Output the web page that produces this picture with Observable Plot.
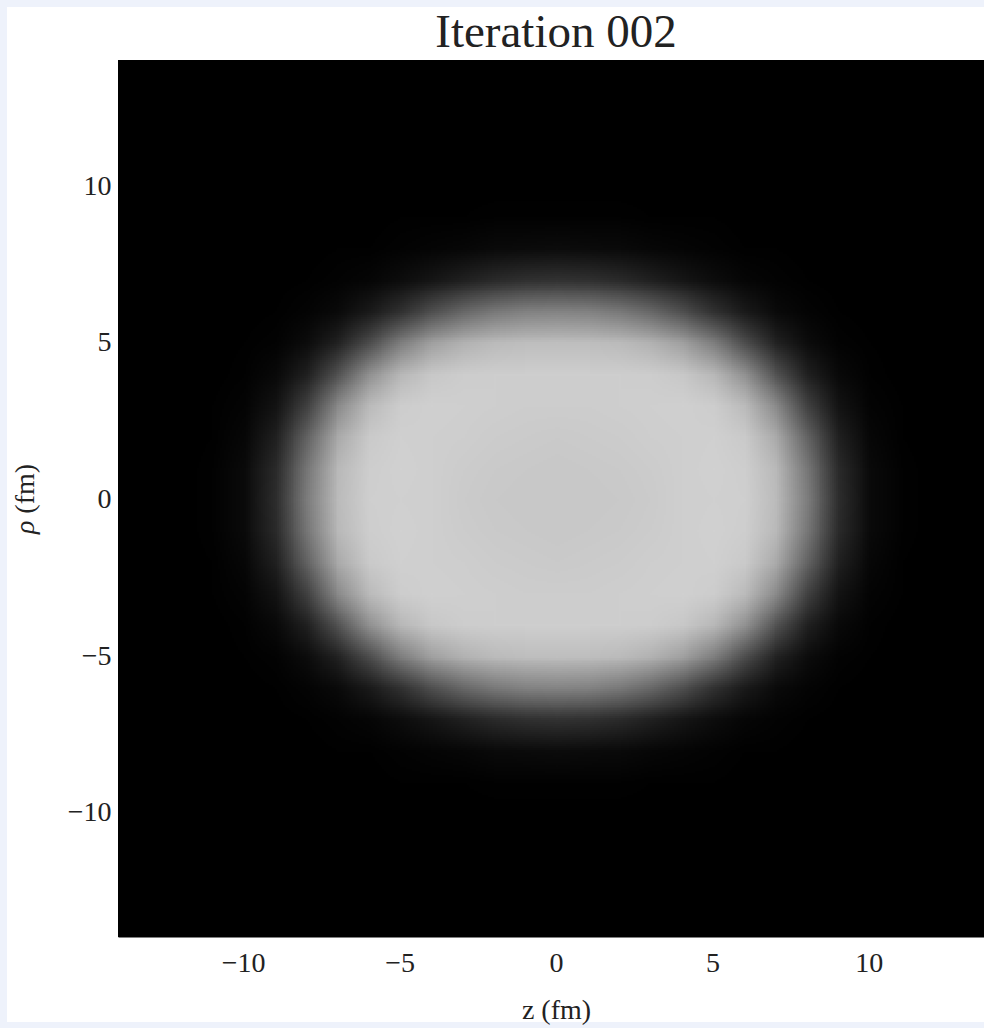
<!DOCTYPE html>
<html>
<head>
<meta charset="utf-8">
<script src="https://cdn.jsdelivr.net/npm/d3@7"></script>
<script src="https://cdn.jsdelivr.net/npm/@observablehq/plot@0.6"></script>
<style>
  html, body { margin: 0; padding: 0; width: 984px; height: 1028px; overflow: hidden; background: #eef2fb; }
  #panel { position: absolute; left: 7px; top: 7px; width: 977px; height: 1015px; background: #fff; }
  #title { position: absolute; left: 111px; top: 1px; width: 876px; text-align: center;
           font-family: "Liberation Serif", serif; font-size: 47px; line-height: 47px; color: #222; }
  #chart { position: absolute; left: 0; top: 45px; }
  #chart svg { max-width: none !important; }
</style>
</head>
<body>
<div id="panel">
  <div id="title">Iteration 002</div>
  <div id="chart"></div>
</div>
<script>
// Axis ticks (fm)
const zTicks = [-10, -5, 0, 5, 10];
const rhoTicks = [-10, -5, 0, 5, 10];

// Grid nodes along each axis, 1 fm apart, from the centre outwards
const zNodes = [0, 1, 2, 3, 4, 5, 6, 7, 8, 9, 10, 11, 12, 13, 14];
const rhoNodes = [0, 1, 2, 3, 4, 5, 6, 7, 8, 9, 10, 11, 12, 13, 14];

// Relative density in the first quadrant: one row per rho node, one column per z node.
// The nucleus is reflection-symmetric in z and rho, so the other quadrants mirror it.
const rho0  = [0.94, 0.94, 0.945, 0.955, 0.97, 0.978, 0.971, 0.88, 0.58, 0.21, 0.048, 0.01, 0.002, 0, 0];
const rho1  = [0.94, 0.942, 0.948, 0.957, 0.971, 0.979, 0.969, 0.87, 0.555, 0.195, 0.045, 0.009, 0.002, 0, 0];
const rho2  = [0.95, 0.952, 0.957, 0.966, 0.974, 0.977, 0.95, 0.80, 0.46, 0.148, 0.033, 0.0067, 0.001, 0, 0];
const rho3  = [0.962, 0.963, 0.968, 0.973, 0.975, 0.963, 0.88, 0.65, 0.30, 0.089, 0.021, 0.0043, 0.001, 0, 0];
const rho4  = [0.965, 0.966, 0.965, 0.962, 0.937, 0.863, 0.685, 0.39, 0.15, 0.041, 0.01, 0.002, 0, 0, 0];
const rho5  = [0.897, 0.894, 0.88, 0.836, 0.75, 0.59, 0.36, 0.16, 0.055, 0.016, 0.004, 0.001, 0, 0, 0];
const rho6  = [0.62, 0.61, 0.57, 0.49, 0.37, 0.23, 0.12, 0.048, 0.017, 0.0055, 0.0015, 0, 0, 0, 0];
const rho7  = [0.24, 0.23, 0.20, 0.155, 0.105, 0.06, 0.03, 0.013, 0.005, 0.002, 0, 0, 0, 0, 0];
const rho8  = [0.055, 0.052, 0.045, 0.034, 0.023, 0.013, 0.007, 0.003, 0.001, 0, 0, 0, 0, 0, 0];
const rho9  = [0.011, 0.011, 0.009, 0.007, 0.0045, 0.003, 0.0015, 0.001, 0, 0, 0, 0, 0, 0, 0];
const rho10 = [0.002, 0.002, 0.002, 0.0015, 0.001, 0.001, 0, 0, 0, 0, 0, 0, 0, 0, 0];
const rho11 = [0, 0, 0, 0, 0, 0, 0, 0, 0, 0, 0, 0, 0, 0, 0];
const rho12 = [0, 0, 0, 0, 0, 0, 0, 0, 0, 0, 0, 0, 0, 0, 0];
const rho13 = [0, 0, 0, 0, 0, 0, 0, 0, 0, 0, 0, 0, 0, 0, 0];
const rho14 = [0, 0, 0, 0, 0, 0, 0, 0, 0, 0, 0, 0, 0, 0, 0];
const quadrant = [rho0, rho1, rho2, rho3, rho4, rho5, rho6, rho7, rho8, rho9, rho10, rho11, rho12, rho13, rho14];

// Full row-major grid, top row at rho = +14, left column at z = -14
const n = zNodes.length;
const side = 2 * n - 1;
const grid = [];
for (let r = 0; r < side; ++r) {
  const ri = Math.abs(n - 1 - r);
  for (let c = 0; c < side; ++c) {
    grid.push(quadrant[ri][Math.abs(c - (n - 1))]);
  }
}
const zMax = zNodes[n - 1];
const rhoMax = rhoNodes[n - 1];

const chart = Plot.plot({
  width: 1000,
  height: 975,
  marginLeft: 111,
  marginRight: 13,
  marginTop: 8,
  marginBottom: 90,
  style: { fontFamily: '"Liberation Serif", serif', fontSize: "28px", background: "transparent", color: "#222", maxWidth: "none", overflow: "visible" },
  x: { domain: [-zMax, zMax], ticks: zTicks, tickSize: 0, tickPadding: 15, label: "z (fm)", labelAnchor: "center", labelArrow: "none", labelOffset: 81 },
  y: { domain: [-rhoMax, rhoMax], ticks: rhoTicks, tickSize: 0, tickPadding: 7, label: "ρ (fm)", labelAnchor: "center", labelArrow: "none", labelOffset: 104 },
  color: { type: "linear", domain: [0, 1], range: ["#000000", "#d5d5d5"], interpolate: "rgb" },
  marks: [
    Plot.frame({ fill: "black" }),
    Plot.raster(grid, {
      width: side,
      height: side,
      fill: Plot.identity,
      x1: -zMax - 0.5,
      x2: zMax + 0.5,
      y1: rhoMax + 0.5,
      y2: -rhoMax - 0.5,
      imageRendering: "auto",
      clip: true
    })
  ]
});
document.getElementById("chart").appendChild(chart);

// Set the rho symbol of the vertical axis label in italics
const yLabel = chart.querySelector('[aria-label="y-axis label"] text');
if (yLabel) {
  yLabel.textContent = "";
  const sym = document.createElementNS("http://www.w3.org/2000/svg", "tspan");
  sym.setAttribute("font-style", "italic");
  sym.textContent = "ρ";
  const rest = document.createElementNS("http://www.w3.org/2000/svg", "tspan");
  rest.textContent = " (fm)";
  yLabel.append(sym, rest);
}
</script>
</body>
</html>
